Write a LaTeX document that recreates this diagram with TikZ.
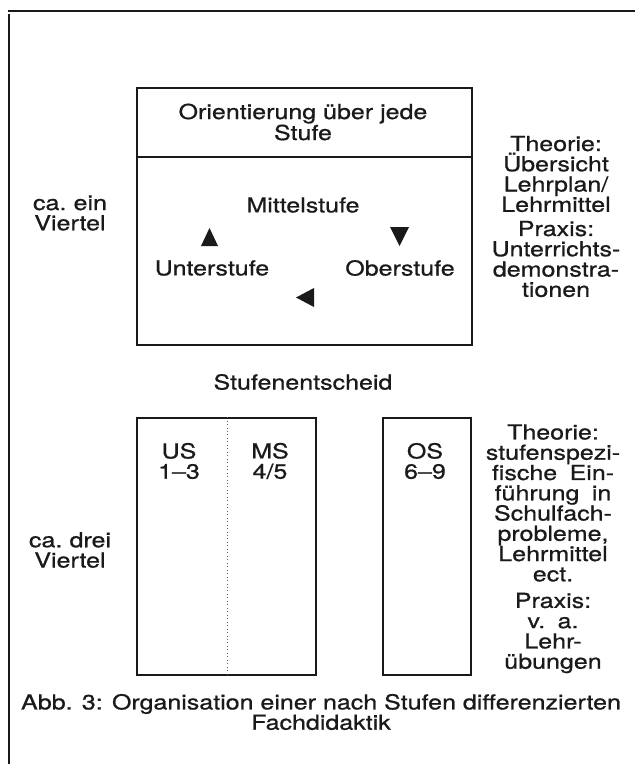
\documentclass[tikz,border=0pt]{standalone}
\usepackage{fontspec}
\setmainfont[FakeStretch=1.21,FakeBold=0.8]{TeX Gyre Heros}
\definecolor{ink}{HTML}{1A1A1A}
\tikzset{
  txt/.style={font=\fontsize{15.5}{15.2}\selectfont, align=center, inner sep=0pt, text=ink},
  boxframe/.style={draw=ink, line width=1.3pt, inner sep=0pt},
  rule/.style={draw=ink, line width=1.4pt},
}
\begin{document}
\begin{tikzpicture}[x=0.75pt,y=-0.75pt]
\path[use as bounding box] (0,0) rectangle (635,764);
% outer frame lines
\coordinate (tl) at (8,11);
\coordinate (tr) at (635,11);
\coordinate (lt) at (9,14);
\coordinate (lb) at (9,764);
\draw[rule] (tl) -- (tr);
\draw[rule] (lt) -- (lb);

% upper box
\node[boxframe, minimum width=251.25pt, minimum height=192.75pt] (ubox) at (304.5,216.5) {};
\coordinate (dv) at (0,157);
\draw[boxframe] (ubox.west |- dv) -- (ubox.east |- dv);
\node[txt, font=\fontsize{15.5}{15.75}\selectfont] (orient) at (303,122) {Orientierung über jede\\Stufe};
\node[txt] (mittel) at (303,205) {Mittelstufe};
\node[txt] (unter) at (212,268) {Unterstufe};
\node[txt] (ober) at (400,268) {Oberstufe};
\fill[ink] (201,246) -- (218,246) -- (209.5,228) -- cycle;
\fill[ink] (390,227) -- (409,227) -- (399.5,246) -- cycle;
\fill[ink] (314,288) -- (314,307) -- (296,297.5) -- cycle;

% left labels
\node[txt] (ein) at (70,213) {ca.\hspace{0.35em}ein\\Viertel};
\node[txt] (drei) at (70,550) {ca.\hspace{0.35em}drei\\Viertel};

% right labels upper
\node[txt] (theo1) at (556,174) {Theorie:\\Übersicht\\Lehrplan/\\Lehrmittel};
\node[txt] (prax1) at (556,259) {Praxis:\\Unterrichts-\\demonstra-\\tionen};

% decision
\node[txt] (entscheid) at (303,382) {Stufenentscheid};

% lower boxes
\node[boxframe, minimum width=134.25pt, minimum height=192.75pt] (lbox) at (226.5,546.5) {};
\coordinate (dx) at (227,0);
\draw[dotted, draw=ink!70, line width=0.6pt] (lbox.north -| dx) -- (lbox.south -| dx);
\node[boxframe, minimum width=66pt, minimum height=192.75pt] (obox) at (427,546.5) {};
\node[txt] (us) at (179,461) {US\\1–3};
\node[txt] (ms) at (270,461) {MS\\4/5};
\node[txt] (os) at (425,461) {OS\\6–9};

% right labels lower
\node[txt] (theo2) at (553,503) {Theorie:\\stufenspezi-\\fische\hspace{0.6em}Ein-\\führung\hspace{0.6em}in\\Schulfach-\\probleme,\\Lehrmittel\\ect.};
\node[txt] (prax2) at (553,633) {Praxis:\\v.\hspace{0.6em}a.\\Lehr-\\übungen};

% caption
\node[txt] (caption) at (321,712) {Abb. 3: Organisation einer nach Stufen differenzierten\\Fachdidaktik};
\end{tikzpicture}
\end{document}
